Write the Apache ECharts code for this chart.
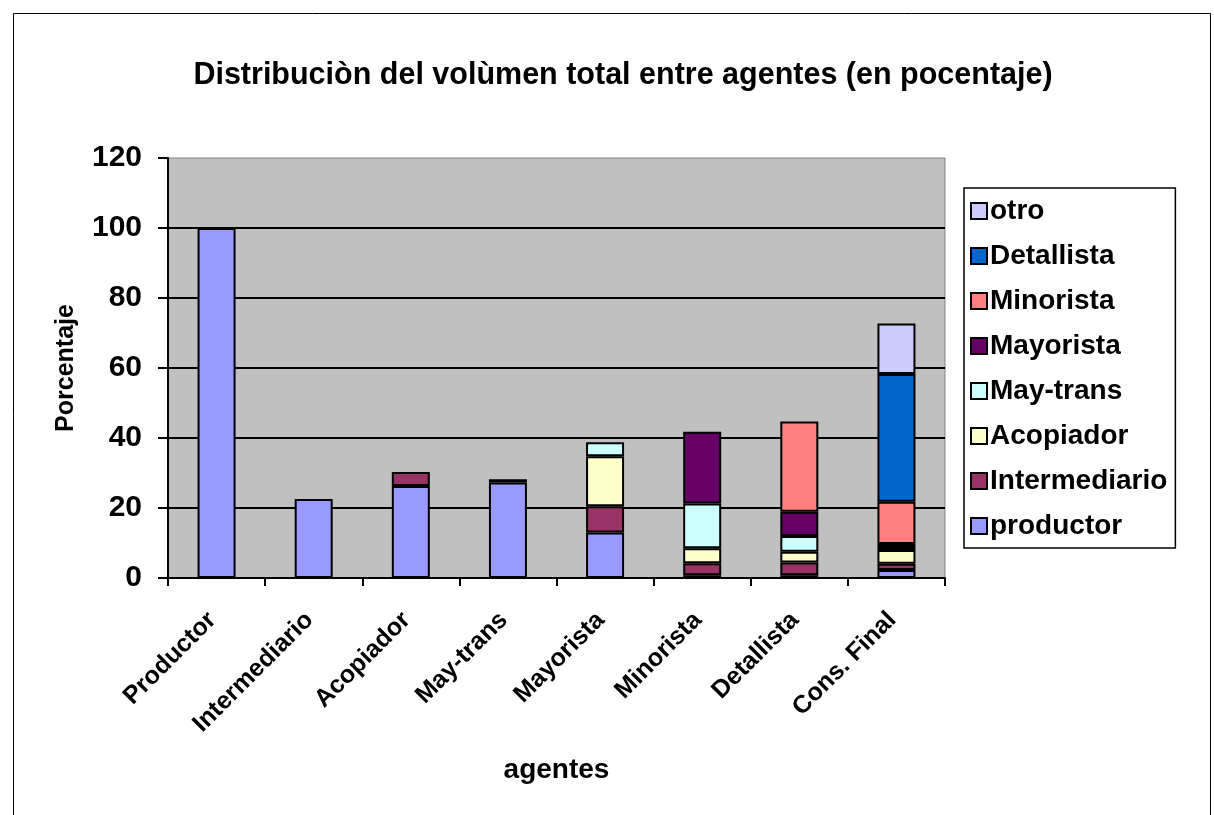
<!DOCTYPE html>
<html>
<head>
<meta charset="utf-8">
<script src="https://cdn.jsdelivr.net/npm/echarts@6/dist/echarts.min.js"></script>
<style>html,body{margin:0;padding:0;background:#fff}#c{width:1214px;height:815px}</style>
</head>
<body>
<div id="c"></div>
<script>
const categories = ['Productor','Intermediario','Acopiador','May-trans','Mayorista','Minorista','Detallista','Cons. Final'];
const productor     = [100, 22.6, 26.3, 27.3, 13.0, 0.8, 0.8, 2.3];
const intermediario = [null, null, 4.0, 0.9, 7.5, 3.4, 3.6, 1.8];
const acopiador     = [null, null, null, null, 14.3, 4.3, 3.1, 3.9];
const maytrans      = [null, null, null, null, 4.0, 12.8, 4.5, 0.6];
const mayorista     = [null, null, null, null, null, 20.5, 6.9, 1.1];
const minorista     = [null, null, null, null, null, null, 25.8, 12.1];
const detallista    = [null, null, null, null, null, null, null, 36.5];
const otro          = [null, null, null, null, null, null, null, 14.4];
const yTicks = [0, 20, 40, 60, 80, 100, 120];

const seriesDefs = [
  ['productor', productor, '#9999FF'],
  ['Intermediario', intermediario, '#993366'],
  ['Acopiador', acopiador, '#FFFFCC'],
  ['May-trans', maytrans, '#CCFFFF'],
  ['Mayorista', mayorista, '#660066'],
  ['Minorista', minorista, '#FF8080'],
  ['Detallista', detallista, '#0066CC'],
  ['otro', otro, '#CCCCFF']
];
const FONT = '"Liberation Sans", Arial, sans-serif';
const chart = echarts.init(document.getElementById('c'), null, {renderer: 'canvas'});
chart.setOption({
  animation: false,
  backgroundColor: '#ffffff',
  graphic: [{
    type: 'rect', silent: true,
    shape: {x: 13.5, y: 13.5, width: 1197, height: 900},
    style: {fill: 'none', stroke: '#000', lineWidth: 1}
  }],
  title: {
    text: 'Distribuciòn del volùmen total entre agentes (en pocentaje)',
    left: 618, textAlign: 'center', top: 55,
    textStyle: {fontFamily: FONT, fontSize: 30.5, fontWeight: 'bold', color: '#000'}
  },
  legend: {
    orient: 'vertical',
    left: 964, top: 188,
    padding: [9, 8, 8, 6],
    borderColor: '#000', borderWidth: 1.5,
    backgroundColor: '#fff',
    icon: 'rect',
    itemWidth: 16, itemHeight: 16, itemGap: 17,
    data: ['otro','Detallista','Minorista','Mayorista','May-trans','Acopiador','Intermediario','productor'],
    textStyle: {fontFamily: FONT, fontSize: 28, fontWeight: 'bold', color: '#000', padding: [0,0,0,-2]}
  },
  grid: {
    left: 168, top: 158, right: 269, bottom: 237,
    show: true, backgroundColor: '#C0C0C0', borderColor: '#808080', borderWidth: 1
  },
  xAxis: {
    type: 'category',
    data: categories,
    name: 'agentes', nameLocation: 'middle', nameGap: 178,
    nameTextStyle: {fontFamily: FONT, fontSize: 28, fontWeight: 'bold', color: '#000'},
    axisLine: {lineStyle: {color: '#000', width: 2}},
    axisTick: {show: true, length: 8, lineStyle: {color: '#000', width: 2}},
    axisLabel: {rotate: 45, margin: 34, padding: [0, 6, 0, 0], fontFamily: FONT, fontSize: 25, fontWeight: 'bold', color: '#000'}
  },
  yAxis: {
    type: 'value', min: 0, max: 120, interval: 20,
    name: 'Porcentaje', nameLocation: 'middle', nameGap: 89, nameRotate: 90,
    nameTextStyle: {fontFamily: FONT, fontSize: 25, fontWeight: 'bold', color: '#000'},
    axisLine: {show: true, lineStyle: {color: '#000', width: 2}},
    axisTick: {show: true, length: 10, lineStyle: {color: '#000', width: 2}},
    axisLabel: {margin: 26, fontFamily: FONT, fontSize: 30, fontWeight: 'bold', color: '#000',
      formatter: v => yTicks.includes(v) ? String(v) : ''},
    splitLine: {show: true, showMaxLine: false, lineStyle: {color: '#000', width: 2}}
  },
  series: seriesDefs.map(([name, data, color]) => ({
    name, type: 'bar', stack: 'total', data,
    barWidth: 38,
    itemStyle: {color, borderColor: '#000', borderWidth: 2}
  }))
});
</script>
</body>
</html>
